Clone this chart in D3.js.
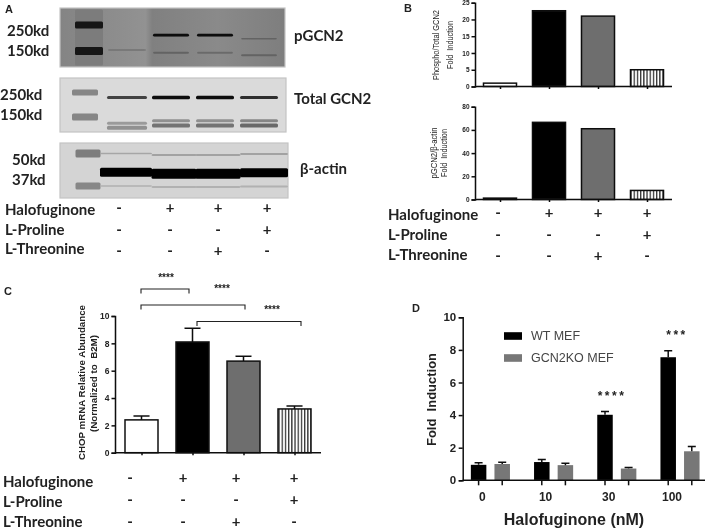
<!DOCTYPE html>
<html><head><meta charset="utf-8">
<script src="https://cdn.jsdelivr.net/npm/d3@7"></script>
<style>html,body{margin:0;padding:0;background:#fff}svg{display:block}
.ax path,.ax line{stroke:#111;stroke-width:1.5}
.ax text{font-family:"Liberation Sans",Arial,sans-serif;font-weight:700;fill:#222}
</style></head><body><svg id="c" width="709" height="529"></svg>
<script>
// ---- data ----
const treatments = ["Vehicle","HF","HF+Thr","HF+Pro"];
const halofuginone = ["-","+","+","+"];
const lProline = ["-","-","-","+"];
const lThreonine = ["-","-","+","-"];
const phosphoTotal = [1,22.6,21,5];
const pgcnActin = [1.2,66.5,61,7.8];
const chop = [2.4,8.1,6.7,3.2];
const chopErr = [0.28,1.0,0.35,0.22];
const doses = ["0","10","30","100"];
const wtMef = [0.95,1.12,4.02,7.55];
const wtErr = [0.13,0.15,0.2,0.4];
const koMef = [1.0,0.93,0.72,1.78];
const koErr = [0.1,0.12,0.07,0.3];
const brackets = [["Vehicle","HF",11.97,"****"],["Vehicle","HF+Thr",10.8,"****"],["HF","HF+Pro",9.6,"****"]];
// western blot bands: lane, migration (0-100), thickness, darkness (0-1)
const pgcn2Bands = [["M",50,56,.12],["M",29,7,.95],["M",73,8,.95],["1",71,1.5,.2],["2",46,2.6,1],["2",76,2,.3],["3",46,2.6,1],["3",76,2,.25],["4",52,1.5,.3],["4",80,2,.3]];
const totalBands = [["M",27,6,.4],["M",72,7,.4],["1",36,3,.75],["1",84,3,.3],["1",92,4,.35],["2",36,3.5,1],["2",79,3,.35],["2",88,4,.5],["3",36,3.5,1],["3",79,3,.35],["3",88,4,.5],["4",36,3,.85],["4",79,3,.4],["4",88,4,.55]];
const actinBands = [["M",19,8,.4],["M",78,7,.35],["1",19,1.5,.2],["1",53,9,1],["1",78,1.5,.15],["2",22,2,.22],["2",56,10,1],["2",80,2,.15],["3",22,2,.22],["3",56,10,1],["3",80,2,.15],["4",20,2,.22],["4",54,9,1],["4",79,2,.15]];

const svg = d3.select("#c");
const defs = svg.append("defs");
const blur = (id,s)=>defs.append("filter").attr("id",id).attr("x","-20%").attr("y","-50%").attr("width","140%").attr("height","200%").append("feGaussianBlur").attr("stdDeviation",s);
blur("bandBlur",0.7); blur("soft",0.35);
const hatch = defs.append("pattern").attr("id","hatch").attr("patternUnits","userSpaceOnUse").attr("width",3.2).attr("height",4);
hatch.append("rect").attr("width",3.2).attr("height",4).attr("fill","#fff");
hatch.append("rect").attr("width",1.3).attr("height",4).attr("fill","#333");
const g1 = defs.append("linearGradient").attr("id","blotG");
[[0,"#848484"],[.38,"#929292"],[.41,"#808080"],[.7,"#8a8a8a"],[1,"#7e7e7e"]].forEach(d=>g1.append("stop").attr("offset",d[0]).attr("stop-color",d[1]));

const root = svg.append("g").attr("filter","url(#soft)");
const cal = (s,x,y,t,size=14.5,anchor="start")=>s.append("text").attr("x",x).attr("y",y).attr("text-anchor",anchor).attr("dominant-baseline","central").attr("font-family","Lato,sans-serif").attr("font-weight",700).attr("font-size",size).attr("fill","#222").text(t);
const arial = (s,x,y,t,size,anchor="start",w=700,fill="#222")=>s.append("text").attr("x",x).attr("y",y).attr("text-anchor",anchor).attr("dominant-baseline","central").attr("font-family","Liberation Sans,sans-serif").attr("font-weight",w).attr("font-size",size).attr("fill",fill).text(t);

// panel letters
[["A",5,9],["B",404,8],["C",4,291],["D",412,308]].forEach(d=>arial(root,d[1],d[2],d[0],11));

// ---- blots ----
function blot(x0,x1,y0,y1,bg,base,bands,ink,lanes,widths){
  const g=root.append("g");
  g.append("rect").attr("x",x0).attr("y",y0).attr("width",x1-x0).attr("height",y1-y0).attr("fill",bg).attr("stroke","#c4c4c4").attr("stroke-width",1.2);
  const y=d3.scaleLinear([0,100],[y0,y1]);
  const lx=d3.scaleOrdinal(["M","1","2","3","4"],lanes);
  const lw=d3.scaleOrdinal(["M","1","2","3","4"],widths);
  const dark=d3.scaleLinear([0,1],[base,ink]);
  g.append("g").attr("filter","url(#bandBlur)").selectAll("rect").data(bands).join("rect")
    .attr("x",d=>lx(d[0])-lw(d[0])/2).attr("width",d=>lw(d[0]))
    .attr("y",d=>y(d[1])-d[2]/2).attr("height",d=>d[2]).attr("rx",1.5)
    .attr("fill",d=>dark(d[3]));
}
blot(60,285,8,67,"url(#blotG)","#8a8a8a",pgcn2Bands,"#0c0c0c",[89,127,171,215,259],[28,38,36,36,36]);
blot(60,286,78,132,"#dadada","#d4d4d4",totalBands,"#111",[85,127,171,215,259],[26,40,38,38,38]);
blot(60,288,143,198,"#d4d4d4","#d0d0d0",actinBands,"#000",[88,126,174,218,264],[25,52,45,45,48]);
[["250kd",7,30],["150kd",7,50],["250kd",0,94],["150kd",0,114],["50kd",12,159],["37kd",12,179]].forEach(d=>cal(root,d[1],d[2],d[0],15));
cal(root,294,35,"pGCN2",15);cal(root,294,98,"Total GCN2",15);cal(root,300,168,"β-actin",15);

// ---- treatment tables ----
function table(lx,cols,rows,labelY,size){
  [["Halofuginone",halofuginone],["L-Proline",lProline],["L-Threonine",lThreonine]].forEach((r,i)=>{
    cal(root,lx,labelY[i],r[0],size);
    root.append("g").selectAll("text").data(r[1]).join("text")
      .attr("x",(d,j)=>cols[j]).attr("y",rows[i]).attr("text-anchor","middle").attr("dominant-baseline","central")
      .attr("font-family","Lato,sans-serif").attr("font-weight",700).attr("font-size",15).attr("fill","#222").text(d=>d);
  });
}
table(5,[119,170,218,267],[207,229,250],[209,229,248],15);
table(388,[498,549,598,647],[212,234,255],[214,234,254],15);
table(3,[130,183,236,294],[477,499,521],[481,501,521],15);

// ---- bar helper ----
const fills=["#fff","#000","#6e6e6e","url(#hatch)"];
function barPanel(vals,yMax,ticks,top,bottom,left,right,pad,bw,fontSize,barStroke){
  const x=d3.scalePoint(treatments,[left+pad,right-pad]);
  const y=d3.scaleLinear([0,yMax],[bottom,top]);
  const g=root.append("g");
  g.selectAll("rect").data(vals).join("rect")
    .attr("x",(d,i)=>x(treatments[i])-bw/2).attr("width",bw)
    .attr("y",d=>y(d)).attr("height",d=>y(0)-y(d))
    .attr("fill",(d,i)=>fills[i]).attr("stroke","#111").attr("stroke-width",barStroke);
  const ax=g.append("g").attr("class","ax");
  ax.append("g").attr("transform",`translate(${left},0)`).call(d3.axisLeft(y).tickValues(ticks).tickSize(3.5).tickPadding(2)).selectAll("text").attr("font-size",fontSize);
  ax.append("g").attr("transform",`translate(0,${bottom})`).call(d3.axisBottom(x).tickSize(2.5).tickFormat("")).select("path").attr("d",`M${left},0H${right}`);
  return {x,y,g};
}
barPanel(phosphoTotal,25,[0,5,10,15,20,25],2.7,86.5,475,672,25,33,6.5,1.5);
barPanel(pgcnActin,80,[0,20,40,60,80],106.7,199.5,475,672,25,33,6.5,1.5);
const yl=(x,y,t,size,len,w=400,fill="#222")=>
  root.append("text").attr("transform",`translate(${x},${y}) rotate(-90)`).attr("text-anchor","middle").attr("dominant-baseline","central")
    .attr("font-family","Liberation Sans,sans-serif").attr("font-weight",w).attr("font-size",size).attr("fill",fill)
    .attr("textLength",len).attr("lengthAdjust","spacingAndGlyphs").text(t);
yl(436,45,"Phospho/Total GCN2",8.5,70);yl(449.5,45,"Fold\u00a0\u00a0Induction",8.5,48);
yl(434,153,"pGCN2/β-actin",8.5,51);yl(444,153,"Fold\u00a0\u00a0Induction",8.5,48);

// ---- panel C ----
const C=barPanel(chop,10,[0,2,4,6,8,10],316,452.7,115,321,26.5,33,8.5,1.5);
C.g.selectAll(".err").data(chop).join("path").attr("class","err")
  .attr("d",(d,i)=>{const cx=C.x(treatments[i]),t=C.y(d+chopErr[i]);return `M${cx},${C.y(d)}V${t}M${cx-8},${t}H${cx+8}`;})
  .attr("stroke","#111").attr("stroke-width",1.5).attr("fill","none");
C.g.selectAll(".br").data(brackets).join("path").attr("class","br")
  .attr("d",d=>{const a=C.x(d[0])-.5,b=C.x(d[1])+(d[1]==="HF+Pro"?6.5:d[1]==="HF"?-3.5:1.5),yy=C.y(d[2]),a2=d[0]==="HF"?a+5:a;return `M${a2},${yy+4.5}V${yy}H${b}V${yy+4.5}`;})
  .attr("fill","none").attr("stroke","#222").attr("stroke-width",1.1);
[[166,276],[222,286.5],[272,308]].forEach((p,i)=>arial(root,p[0],p[1]+1.5,brackets[i][3],10,"middle"));
yl(81,382.5,"CHOP mRNA Relative Abundance",9.6,155,700);yl(93.5,383.5,"(Normalized to\u00a0\u00a0B2M)",9.6,97,700);

// ---- panel D ----
const xd=d3.scalePoint(doses,[490.4,680]);
const yd=d3.scaleLinear([0,10],[480.3,317.3]);
const gd=root.append("g");
const off=11.8,bwD=15.5;
[[wtMef,wtErr,-off,"#000"],[koMef,koErr,off,"#777"]].forEach(s=>{
  const sg=gd.append("g");
  sg.selectAll("rect").data(s[0]).join("rect").attr("x",(d,i)=>xd(doses[i])+s[2]-bwD/2).attr("width",bwD)
    .attr("y",d=>yd(d)).attr("height",d=>yd(0)-yd(d)).attr("fill",s[3]);
  sg.selectAll("path").data(s[0]).join("path").attr("d",(d,i)=>{const cx=xd(doses[i])+s[2],t=yd(d+s[1][i]);return `M${cx},${yd(d)}V${t}M${cx-4},${t}H${cx+4}`;})
    .attr("stroke","#111").attr("stroke-width",1.5).attr("fill","none");
});
const axD=gd.append("g").attr("class","ax");
axD.append("g").attr("transform","translate(462.7,0)").call(d3.axisLeft(yd).tickValues([0,2,4,6,8,10]).tickSize(4).tickPadding(2.5)).selectAll("text").attr("font-size",11.5);
const xb=axD.append("g").attr("transform","translate(0,480.3)");
xb.append("path").attr("d","M462.7,0H705").attr("stroke-width",1.5);
xb.selectAll("line").data(doses.flatMap(d=>[xd(d)-off,xd(d)+off])).join("line").attr("x1",d=>d).attr("x2",d=>d).attr("y1",0).attr("y2",5);
xb.selectAll("text").data(doses).join("text").attr("x",d=>xd(d)-8).attr("y",17).attr("text-anchor","middle").attr("dominant-baseline","central").attr("font-size",12).text(d=>d);
arial(root,574,519,"Halofuginone (nM)",16,"middle");
yl(432,399.5,"Fold\u00a0\u00a0Induction",12.5,93,700);
[["WT MEF","#000",336],["GCN2KO MEF","#777",358]].forEach(d=>{
  root.append("rect").attr("x",504).attr("y",d[2]-3.8).attr("width",18).attr("height",7.6).attr("fill",d[1]);
  arial(root,531,d[2],d[0],12.5,"start",400,"#444");
});
arial(root,612,396,"****",12,"middle").attr("letter-spacing",2.5);
arial(root,677,335,"***",12,"middle").attr("letter-spacing",2.5);
</script></body></html>
